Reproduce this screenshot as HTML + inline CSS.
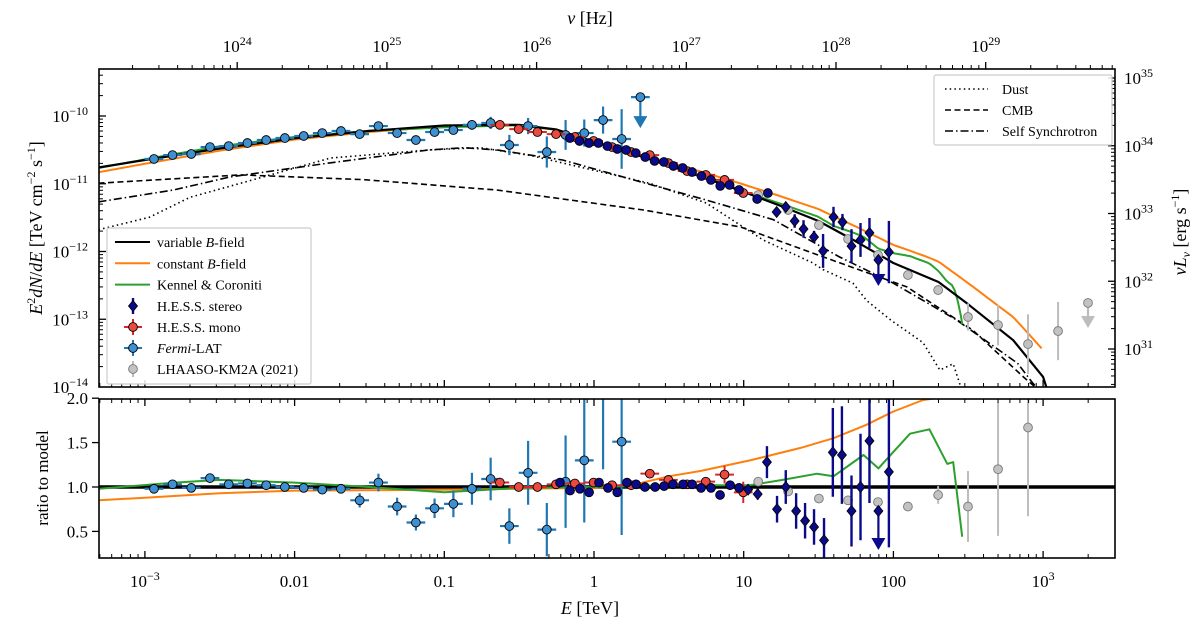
<!DOCTYPE html>
<html><head><meta charset="utf-8"><style>
html,body{margin:0;padding:0;background:#fff;}
svg{display:block;font-family:"Liberation Serif",serif;}
</style></head><body>
<svg id="chart" width="1200" height="628" viewBox="0 0 1200 628" xmlns="http://www.w3.org/2000/svg">
<defs>
<clipPath id="clipTop"><rect x="99" y="69" width="1016" height="318"/></clipPath>
<clipPath id="clipBot"><rect x="99" y="399" width="1016" height="159"/></clipPath>
</defs>
<rect width="1200" height="628" fill="#fff"/>
<g id="gTopModels" clip-path="url(#clipTop)"></g>
<g id="gTopData" clip-path="url(#clipTop)"></g>
<g id="gBotModels" clip-path="url(#clipBot)"></g>
<g id="gBotData" clip-path="url(#clipBot)"></g>
<g id="gAxes"></g>
<g id="gLegend"></g>
<text x="590" y="24" text-anchor="middle" font-size="18"><tspan font-style="italic">ν</tspan> [Hz]</text>
<text x="590" y="614" text-anchor="middle" font-size="18"><tspan font-style="italic">E</tspan> [TeV]</text>
<text transform="translate(42,228) rotate(-90)" text-anchor="middle" font-size="18"><tspan font-style="italic">E</tspan><tspan dy="-7" font-size="12">2</tspan><tspan dy="7" font-style="italic">dN</tspan>/<tspan font-style="italic">dE</tspan> [TeV cm<tspan dy="-7" font-size="12">−2</tspan><tspan dy="7"> s</tspan><tspan dy="-7" font-size="12">−1</tspan><tspan dy="7">]</tspan></text>
<text transform="translate(48,478) rotate(-90)" text-anchor="middle" font-size="17">ratio to model</text>
<text transform="translate(1186,232) rotate(-90)" text-anchor="middle" font-size="18"><tspan font-style="italic">νL</tspan><tspan dy="4" font-size="12" font-style="italic">ν</tspan><tspan dy="-4"> [erg s</tspan><tspan dy="-7" font-size="12">−1</tspan><tspan dy="7">]</tspan></text>
</svg>
<script>
// ===== Models =====
const blackE=[4.9e-4,1e-3,3.16e-3,0.01,0.0316,0.1,0.316,0.562,1,1.78,3.16,5.62,10,17.8,31.6,56.2,100,200,316,631,1000,1050];
const blackF=[1.74e-11,2.24e-11,3.31e-11,4.68e-11,6.03e-11,7.24e-11,7.41e-11,6.31e-11,4.17e-11,2.82e-11,1.86e-11,1.2e-11,7.59e-12,4.68e-12,2.82e-12,1.41e-12,6.76e-13,3.55e-13,1.66e-13,4.9e-14,1.41e-14,1.0e-14];
const orangeRE=[4.9e-4,1e-3,3.16e-3,0.01,0.1,1,1.78,3.16,5.13,11,24,39.8,66,100,158,316,631,1000];
const orangeR=[0.85,0.88,0.93,0.96,0.97,0.99,1.02,1.12,1.18,1.3,1.44,1.55,1.7,1.85,1.98,2.05,2.2,2.5];
const greenRE=[4.9e-4,1.58e-3,3.16e-3,0.01,0.0316,0.1,0.316,1,3.16,11,18.2,30.9,39.8,63.1,79.4,129,174,229,251,288];
const greenR=[0.98,1.05,1.08,1.05,1.0,0.94,0.99,1.0,1.02,1.02,1.08,1.15,1.12,1.36,1.21,1.6,1.65,1.26,1.28,0.44];
const dustE=[4.9e-4,1.07e-3,2.0e-3,4.37e-3,0.0174,0.0794,0.174,0.372,2.34,5.62,13.5,28.8,33.9,53.7,66.1,95.5,158,204,251,282,316];
const dustF=[2.1e-12,3.2e-12,6.3e-12,1.02e-11,2.4e-11,3.16e-11,3.4e-11,2.63e-11,1.02e-11,5.2e-12,1.48e-12,6.8e-13,5.4e-13,3.4e-13,1.9e-13,9.8e-14,4.5e-14,1.78e-14,2.2e-14,1e-14,6.3e-15];
const sscE=[4.9e-4,1.55e-3,3.72e-3,0.0174,0.0794,0.135,0.224,0.617,2.04,5.62,15.8,43.7,100,263,676,851,1000];
const sscF=[5.4e-12,8.1e-12,1.26e-11,2.04e-11,3.16e-11,3.4e-11,3.16e-11,2.24e-11,1.07e-11,5.75e-12,2.95e-12,8.3e-13,3.4e-13,9.8e-14,2.24e-14,1.15e-14,7.9e-15];
const cmbE=[4.9e-4,4.37e-3,0.0288,0.224,2.14,9.55,43.7,123,339,741,1000];
const cmbF=[1.02e-11,1.35e-11,1.15e-11,8.1e-12,4.1e-12,2.3e-12,6.8e-13,3.0e-13,6.9e-14,1.4e-14,7.9e-15];
// ===== Fermi-LAT =====
const fermiE=[0.00115,0.00153,0.00204,0.00272,0.00363,0.00484,0.00646,0.00861,0.0115,0.0153,0.0204,0.0272,0.0363,0.0484,0.0646,0.0861,0.115,0.153,0.204,0.272,0.363,0.484,0.646,0.861,1.15,1.53];
const fermiF=[2.32e-11,2.65e-11,2.75e-11,3.48e-11,3.6e-11,3.99e-11,4.42e-11,4.73e-11,5.07e-11,5.6e-11,6.0e-11,5.4e-11,7.1e-11,5.6e-11,4.42e-11,5.8e-11,6.2e-11,7.4e-11,7.9e-11,3.73e-11,7.1e-11,2.94e-11,5.25e-11,5.6e-11,8.7e-11,4.58e-11];
const fermiErr=[0.02,0.02,0.02,0.02,0.02,0.02,0.02,0.02,0.02,0.02,0.02,0.03,0.03,0.04,0.04,0.05,0.06,0.07,0.09,0.15,0.12,0.23,0.22,0.2,0.2,0.44];
const fermiR=[0.98,1.03,0.99,1.1,1.03,1.04,1.02,1.0,0.99,0.97,0.98,0.85,1.05,0.78,0.60,0.76,0.81,0.98,1.09,0.56,1.16,0.52,1.06,1.30,2.3,1.51];
const fermiRErr=[0.02,0.02,0.02,0.02,0.02,0.03,0.03,0.03,0.03,0.03,0.04,0.08,0.1,0.1,0.09,0.11,0.15,0.18,0.24,0.2,0.36,0.3,0.52,0.7,1.1,1.05];
const fermiULE=[2.04];
const fermiULF=[1.9e-10];
// ===== H.E.S.S. mono =====
const monoE=[0.235,0.314,0.419,0.558,0.745,0.993,1.32,1.77,2.36,3.14,4.19,5.58,7.45,9.93];
const monoF=[7.4e-11,6.4e-11,5.8e-11,5.4e-11,4.9e-11,4.28e-11,3.48e-11,2.94e-11,2.65e-11,2.02e-11,1.54e-11,1.35e-11,1.14e-11,7.3e-12];
const monoErr=[0.01,0.01,0.01,0.01,0.01,0.01,0.01,0.015,0.015,0.02,0.02,0.02,0.03,0.05];
const monoR=[1.05,1.0,1.0,1.03,1.04,1.05,1.02,1.02,1.15,1.08,1.03,1.06,1.14,0.94];
const monoRErr=[0.02,0.02,0.02,0.02,0.02,0.02,0.02,0.03,0.03,0.04,0.04,0.05,0.1,0.12];
// ===== H.E.S.S. stereo =====
const stereoE=[0.69,0.80,0.925,1.07,1.23,1.43,1.64,1.90,2.2,2.54,2.93,3.39,3.91,4.52,5.22,6.04,6.97,8.05,9.31,12.3,14.5,16.6,19.1,21.9,25.1,29.5,33.9,39.8,45.7,52.5,60.3,69.2,93.3];
const stereoF=[4.73e-11,4.28e-11,3.99e-11,3.99e-11,3.6e-11,3.26e-11,3.15e-11,2.84e-11,2.48e-11,2.17e-11,2.1e-11,1.83e-11,1.71e-11,1.49e-11,1.3e-11,1.14e-11,9.3e-12,9.6e-12,8.1e-12,5.96e-12,7.3e-12,3.83e-12,4.54e-12,2.82e-12,2.15e-12,1.64e-12,1.02e-12,3.23e-12,2.72e-12,1.2e-12,1.48e-12,1.88e-12,9.8e-13];
const stereoErr=[0.01,0.01,0.01,0.01,0.01,0.01,0.01,0.01,0.01,0.01,0.01,0.01,0.01,0.01,0.01,0.01,0.01,0.01,0.01,0.03,0.04,0.066,0.06,0.1,0.13,0.09,0.25,0.15,0.12,0.25,0.25,0.22,0.46];
const stereoRE=[0.593,0.692,0.805,0.927,1.08,1.24,1.43,1.66,1.91,2.19,2.56,2.94,3.37,3.94,4.52,5.19,6.05,6.95,8.11,9.31,10.7,12.4,14.3,16.7,19.1,22.4,25.7,29.5,34.4,39.4,45.3,52.5,60.3,69.2,93.3];
const stereoR=[1.05,0.96,0.98,0.94,1.05,0.99,0.94,1.05,1.03,1.0,1.0,1.01,1.03,1.03,1.03,0.99,0.99,0.91,1.02,0.99,0.97,0.92,1.28,0.75,1.0,0.73,0.62,0.55,0.4,1.39,1.36,0.73,1.0,1.52,1.17];
const stereoRErr=[0.02,0.02,0.02,0.02,0.02,0.02,0.02,0.02,0.02,0.02,0.02,0.02,0.02,0.02,0.02,0.02,0.02,0.03,0.03,0.03,0.05,0.06,0.18,0.15,0.19,0.2,0.2,0.2,0.25,0.5,0.55,0.4,0.6,0.7,0.85];
const stereoULE=[79.4];
const stereoULF=[7.5e-13];
const stereoULR=[0.73];
// ===== LHAASO =====
const lhE=[12.5,19.8,31.8,49.8,78.9,125,199,315,500,793,1259];
const lhF=[6.8e-12,4.1e-12,2.46e-12,1.53e-12,8.9e-13,4.5e-13,2.7e-13,1.08e-13,8.2e-14,4.3e-14,6.7e-14];
const lhErr=[0.02,0.02,0.02,0.02,0.03,0.03,0.07,0.2,0.3,0.44,0.43];
const lhR=[1.06,0.95,0.87,0.85,0.83,0.78,0.91,0.78,1.2,1.67];
const lhRErr=[0.02,0.02,0.02,0.02,0.03,0.03,0.1,0.4,0.75,1.0];
const lhULE=[1995];
const lhULF=[1.74e-13];
// ===== ticks =====
const xTickVals=[1e-3,0.01,0.1,1,10,100,1000];
const xTickLabels=['10<tspan dy="-7" font-size="12">−3</tspan>','0.01','0.1','1','10','100','10<tspan dy="-7" font-size="12">3</tspan>'];
const nuTickExp=[24,25,26,27,28,29];
const yTickExp=[-10,-11,-12,-13,-14];
const rTickVals=[2.0,1.5,1.0,0.5];
const lTickExp=[35,34,33,32,31];

const NS='http://www.w3.org/2000/svg';
const xE=E=>594+149.7*Math.log10(E);
const xNu=nu=>594+149.7*Math.log10(nu/2.418e26);
const yF=F=>116-67.75*(Math.log10(F)+10);
const yR=r=>487-88.8*(r-1);
const yL=L=>78-67.75*(Math.log10(L)-35);
function mk(tag,attrs,parent){const e=document.createElementNS(NS,tag);for(const k in attrs)e.setAttribute(k,attrs[k]);parent.appendChild(e);return e;}
const gTopModels=document.getElementById('gTopModels');
const gTopData=document.getElementById('gTopData');
const gBotModels=document.getElementById('gBotModels');
const gBotData=document.getElementById('gBotData');
const gAxes=document.getElementById('gAxes');
const gLegend=document.getElementById('gLegend');

function interpLog(Es,Vs,E,logV){const l=Math.log10(E);for(let i=0;i<Es.length-1;i++){const a=Math.log10(Es[i]),b=Math.log10(Es[i+1]);if(l>=a&&l<=b){const t=(l-a)/(b-a);if(logV){return Math.pow(10,Math.log10(Vs[i])+t*(Math.log10(Vs[i+1])-Math.log10(Vs[i])));}return Vs[i]+t*(Vs[i+1]-Vs[i]);}}return l<Math.log10(Es[0])?Vs[0]:Vs[Vs.length-1];}

function line(pts,color,w,dash,parent,name){
  const p=mk('polyline',{points:pts.map(q=>q[0].toFixed(1)+','+q[1].toFixed(1)).join(' '),fill:'none',stroke:color,'stroke-width':w,'stroke-dasharray':dash||'none','stroke-linejoin':'round'},parent);
  
  
  return p;
}
const orangeTop=[],greenTop=[];
for(const arr of [[orangeRE,orangeR,orangeTop],[greenRE,greenR,greenTop]]){
  const [Es,Rs,out]=arr;
  const lo=Math.log10(Es[0]),hi=Math.log10(Es[Es.length-1]);
  for(let l=lo;l<=hi+1e-9;l+=0.02){const E=Math.pow(10,l);out.push([xE(E),yF(interpLog(blackE,blackF,E,true)*interpLog(Es,Rs,E,false))]);}
}
greenTop.push([xE(greenRE[greenRE.length-1]),yF(interpLog(blackE,blackF,greenRE[greenRE.length-1],true)*greenR[greenR.length-1])]);
line(dustE.map((E,i)=>[xE(E),yF(dustF[i])]),'#000',1.6,'1.5,3.2',gTopModels,'dust-curve');
line(cmbE.map((E,i)=>[xE(E),yF(cmbF[i])]),'#000',1.6,'6,3.5',gTopModels,'cmb-curve');
line(sscE.map((E,i)=>[xE(E),yF(sscF[i])]),'#000',1.6,'8,3,1.5,3',gTopModels,'self-synchrotron-curve');
line(orangeTop,'#ff7f0e',2,'',gTopModels,'constant-b-field-curve');
line(greenTop,'#2ca02c',2,'',gTopModels,'kennel-coroniti-curve');
line(blackE.map((E,i)=>[xE(E),yF(blackF[i])]),'#000',2.2,'',gTopModels,'variable-b-field-curve');
const one=mk('line',{x1:99,x2:1115,y1:yR(1),y2:yR(1),stroke:'#000','stroke-width':3.5},gBotModels);


line(orangeRE.map((E,i)=>[xE(E),yR(orangeR[i])]),'#ff7f0e',2,'',gBotModels,'constant-b-field-ratio');
line(greenRE.map((E,i)=>[xE(E),yR(greenR[i])]),'#2ca02c',2,'',gBotModels,'kennel-coroniti-ratio');

function errbar(x1,y1,x2,y2,color,w,parent,name){const l=mk('line',{x1:x1,y1:y1,x2:x2,y2:y2,stroke:color,'stroke-width':w},parent);}
function marker(x,y,shape,fill,edge,parent,name){
  let m;
  if(shape==='d'){m=mk('polygon',{points:`${x},${y-5.5} ${x+4.5},${y} ${x},${y+5.5} ${x-4.5},${y}`,fill:fill,stroke:edge,'stroke-width':0.8},parent);}
  else{m=mk('circle',{cx:x,cy:y,r:4.4,fill:fill,stroke:edge,'stroke-width':0.9},parent);}
  
  
}
function arrow(x,y,len,color,parent,name){
  errbar(x,y,x,y+len-10,color,2.2,parent,name+'-stem');
  const a=mk('polygon',{points:`${x-7},${y+len-12} ${x+7},${y+len-12} ${x},${y+len}`,fill:color},parent);
  
  
}
const FB='#1f77b4',FF='#3f90d0',RB='#d62728',RF='#ec4a40',NB='#0a0a8a',GB='#bdbdbd',GF='#c2c2c2';
lhE.forEach((E,i)=>{const x=xE(E),y=yF(lhF[i]);errbar(x,yF(lhF[i]*Math.pow(10,lhErr[i])),x,yF(lhF[i]/Math.pow(10,lhErr[i])),GB,2,gTopData,'lhaaso-errorbar');marker(x,y,'o',GF,'#777',gTopData,'lhaaso-point');});
lhULE.forEach((E,i)=>{const x=xE(E),y=yF(lhULF[i]);arrow(x,y,25,GB,gTopData,'lhaaso-upper-limit');marker(x,y,'o',GF,'#777',gTopData,'lhaaso-upper-limit-point');});
fermiE.forEach((E,i)=>{const x=xE(E),y=yF(fermiF[i]);errbar(xE(E/1.155),y,xE(E*1.155),y,FB,2.2,gTopData,'fermi-xerr');errbar(x,yF(fermiF[i]*Math.pow(10,fermiErr[i])),x,yF(fermiF[i]/Math.pow(10,fermiErr[i])),FB,2.2,gTopData,'fermi-yerr');marker(x,y,'o',FF,'#000',gTopData,'fermi-point');});
fermiULE.forEach((E,i)=>{const x=xE(E),y=yF(fermiULF[i]);errbar(xE(E/1.155),y,xE(E*1.155),y,FB,2.2,gTopData,'fermi-ul-xerr');arrow(x,y,31,FB,gTopData,'fermi-upper-limit');marker(x,y,'o',FF,'#000',gTopData,'fermi-upper-limit-point');});
monoE.forEach((E,i)=>{const x=xE(E),y=yF(monoF[i]);errbar(xE(E/1.155),y,xE(E*1.155),y,RB,2,gTopData,'mono-xerr');errbar(x,yF(monoF[i]*Math.pow(10,monoErr[i])),x,yF(monoF[i]/Math.pow(10,monoErr[i])),RB,2,gTopData,'mono-yerr');marker(x,y,'o',RF,'#000',gTopData,'hess-mono-point');});
stereoE.forEach((E,i)=>{const x=xE(E),y=yF(stereoF[i]);errbar(x,yF(stereoF[i]*Math.pow(10,stereoErr[i])),x,yF(stereoF[i]/Math.pow(10,stereoErr[i])),NB,2.4,gTopData,'stereo-yerr');marker(x,y,E>15?'d':'o',NB,'#000',gTopData,'hess-stereo-point');});
stereoULE.forEach((E,i)=>{const x=xE(E),y=yF(stereoULF[i]);arrow(x,y,26,NB,gTopData,'stereo-upper-limit');marker(x,y,'d',NB,'#000',gTopData,'stereo-upper-limit-point');});

lhE.slice(0,lhR.length).forEach((E,i)=>{const x=xE(E);errbar(x,yR(lhR[i]+lhRErr[i]),x,yR(lhR[i]-lhRErr[i]),GB,2,gBotData,'lhaaso-ratio-err');marker(x,yR(lhR[i]),'o',GF,'#777',gBotData,'lhaaso-ratio-point');});
fermiE.forEach((E,i)=>{const x=xE(E),y=yR(fermiR[i]);errbar(xE(E/1.155),y,xE(E*1.155),y,FB,2.2,gBotData,'fermi-ratio-xerr');errbar(x,yR(fermiR[i]+fermiRErr[i]),x,yR(fermiR[i]-fermiRErr[i]),FB,2.2,gBotData,'fermi-ratio-yerr');marker(x,y,'o',FF,'#000',gBotData,'fermi-ratio-point');});
monoE.forEach((E,i)=>{const x=xE(E),y=yR(monoR[i]);errbar(xE(E/1.155),y,xE(E*1.155),y,RB,2,gBotData,'mono-ratio-xerr');errbar(x,yR(monoR[i]+monoRErr[i]),x,yR(monoR[i]-monoRErr[i]),RB,2,gBotData,'mono-ratio-yerr');marker(x,y,'o',RF,'#000',gBotData,'mono-ratio-point');});
stereoRE.forEach((E,i)=>{const x=xE(E),y=yR(stereoR[i]);errbar(x,yR(stereoR[i]+stereoRErr[i]),x,yR(stereoR[i]-stereoRErr[i]),NB,2.4,gBotData,'stereo-ratio-yerr');marker(x,y,E>10?'d':'o',NB,'#000',gBotData,'stereo-ratio-point');});
stereoULE.forEach((E,i)=>{const x=xE(E),y=yR(stereoULR[i]);arrow(x,y,39,NB,gBotData,'stereo-ratio-upper-limit');marker(x,y,'d',NB,'#000',gBotData,'stereo-ratio-ul-point');});

function frame(x,y,w,h,name){const r=mk('rect',{x:x,y:y,width:w,height:h,fill:'none',stroke:'#000','stroke-width':1.6},gAxes);}
frame(99,69,1016,318,'top-panel-frame');
frame(99,399,1016,159,'ratio-panel-frame');
function tick(x1,y1,x2,y2,w){const t=mk('line',{x1:x1,y1:y1,x2:x2,y2:y2,stroke:'#000','stroke-width':w},gAxes);}
function label(x,y,html,anchor,name){const t=mk('text',{x:x,y:y,'text-anchor':anchor,'font-size':17},gAxes);t.innerHTML=html;}
for(let d=-4;d<=3;d++){for(let m=1;m<10;m++){const E=m*Math.pow(10,d);const x=xE(E);if(x<99.5||x>1114.5)continue;const L=m===1?7:4,w=m===1?1.3:1;
  tick(x,387,x,387-L,w);tick(x,399,x,399+L,w);tick(x,558,x,558-L,w);}}
for(let d=23;d<=29;d++){for(let m=1;m<10;m++){const nu=m*Math.pow(10,d);const x=xNu(nu);if(x<99.5||x>1114.5)continue;const L=m===1?7:4;tick(x,69,x,69-L,m===1?1.3:1);}}
xTickVals.forEach((v,i)=>label(xE(v),587,xTickLabels[i],'middle','x-tick-label'));
nuTickExp.forEach(e=>label(xNu(Math.pow(10,e)),52,'10<tspan dy="-7" font-size="12">'+e+'</tspan>','middle','nu-tick-label'));
for(let d=-15;d<=-9;d++){for(let m=1;m<10;m++){const y=yF(m*Math.pow(10,d));if(y<69.5||y>386.5)continue;const L=m===1?7:4;tick(99,y,99+L,y,m===1?1.3:1);}}
yTickExp.forEach(e=>label(88,yF(Math.pow(10,e))+6,'10<tspan dy="-7" font-size="12">−'+(-e)+'</tspan>','end','y-tick-label'));
for(let d=30;d<=35;d++){for(let m=1;m<10;m++){const y=yL(m*Math.pow(10,d));if(y<69.5||y>386.5)continue;const L=m===1?7:4;tick(1115,y,1115-L,y,m===1?1.3:1);}}
lTickExp.forEach(e=>label(1124,yL(Math.pow(10,e))+6,'10<tspan dy="-7" font-size="12">'+e+'</tspan>','start','right-tick-label'));
rTickVals.forEach(v=>{const y=yR(v);tick(99,y,92,y,1.3);label(88,y+6,v.toFixed(1),'end','ratio-tick-label');});

function lgBox(x,y,w,h,name){const r=mk('rect',{x:x,y:y,width:w,height:h,fill:'#fff','fill-opacity':0.85,stroke:'#ccc','stroke-width':1.2,rx:2},gLegend);}
function lgText(x,y,html,name){const t=mk('text',{x:x,y:y+5,'font-size':14},gLegend);t.innerHTML=html;}
lgBox(934,75,178,70,'line-style-legend');
const lgLines=[['Dust','1.5,3.2'],['CMB','6,3.5'],['Self Synchrotron','8,3,1.5,3']];
lgLines.forEach((d,i)=>{const y=89+21*i;line([[945,y],[988,y]],'#000',1.6,d[1],gLegend,'legend-handle-'+d[0].toLowerCase().replace(' ','-'));lgText(1002,y,d[0],'legend-entry');});
lgBox(107,228,204,156,'model-legend');
const lgModels=[['variable <tspan font-style="italic">B</tspan>-field','#000'],['constant <tspan font-style="italic">B</tspan>-field','#ff7f0e'],['Kennel &amp; Coroniti','#2ca02c']];
lgModels.forEach((d,i)=>{const y=242+21.3*i;line([[115,y],[150,y]],d[1],2,'',gLegend,'legend-handle-model');lgText(157,y,d[0],'legend-entry');});
const ly=[306,327,348,369];
errbar(133,ly[0]-8,133,ly[0]+8,NB,2.4,gLegend,'legend-stereo-err');marker(133,ly[0],'d',NB,'#000',gLegend,'legend-stereo-marker');lgText(157,ly[0],'H.E.S.S. stereo','legend-entry');
errbar(124,ly[1],142,ly[1],RB,2,gLegend,'legend-mono-xerr');errbar(133,ly[1]-8,133,ly[1]+8,RB,2,gLegend,'legend-mono-yerr');marker(133,ly[1],'o',RF,'#000',gLegend,'legend-mono-marker');lgText(157,ly[1],'H.E.S.S. mono','legend-entry');
errbar(124,ly[2],142,ly[2],FB,2,gLegend,'legend-fermi-xerr');errbar(133,ly[2]-8,133,ly[2]+8,FB,2,gLegend,'legend-fermi-yerr');marker(133,ly[2],'o',FF,'#000',gLegend,'legend-fermi-marker');lgText(157,ly[2],'<tspan font-style="italic">Fermi</tspan>-LAT','legend-entry');
errbar(133,ly[3]-8,133,ly[3]+8,GB,2,gLegend,'legend-lhaaso-err');marker(133,ly[3],'o',GF,'#777',gLegend,'legend-lhaaso-marker');lgText(157,ly[3],'LHAASO-KM2A (2021)','legend-entry');
</script>
</body></html>
